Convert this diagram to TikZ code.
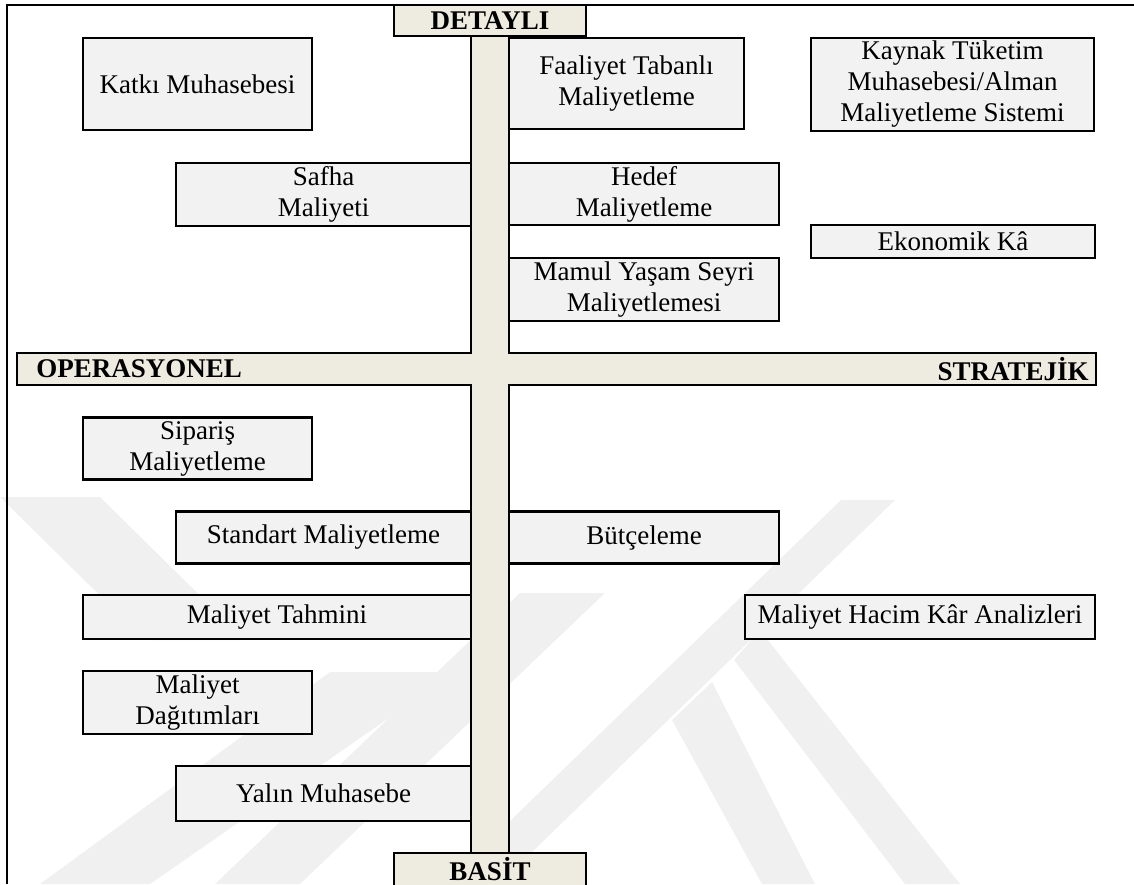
\documentclass[tikz,border=0pt]{standalone}
\usepackage{fontspec}
\setmainfont{Liberation Serif}
\definecolor{barfill}{RGB}{238,236,225}
\definecolor{boxfill}{RGB}{242,242,242}
\definecolor{wm}{RGB}{240,240,240}
\tikzset{
  lw/.style={line width=1.2pt},
  box/.style={lw, draw=black, fill=boxfill, inner sep=0pt, align=center,
    font=\fontsize{13.5}{15.5}\selectfont},
  endbox/.style={box, fill=barfill, font=\fontsize{13.5}{15.5}\selectfont\bfseries},
  barlabel/.style={inner sep=0pt, font=\fontsize{13.5}{15.5}\selectfont\bfseries},
  wmark/.style={fill=wm, draw=none}
}
\begin{document}
\begin{tikzpicture}[x=0.5pt,y=-0.5pt]
\useasboundingbox (0,0) rectangle (1134,884);
\begin{scope}
\clip (0,0) rectangle (1134,884);
% watermark (faint)
\fill[wmark] (0,497) -- (100,497) -- (245,640) -- (145,640) -- cycle;
\fill[wmark] (330,672) -- (455,672) -- (150,884) -- (40,884) -- cycle;
\fill[wmark] (520,593) -- (605,593) -- (300,884) -- (215,884) -- cycle;
\fill[wmark] (841,500) -- (895,500) -- (499,884) -- (445,884) -- cycle;
\fill[wmark] (672,720) -- (712,682) -- (815,884) -- (762,884) -- cycle;
\fill[wmark] (734,660) -- (760,630) -- (960,884) -- (905,884) -- cycle;
% frame
\draw[line width=1pt] (7,884) -- (7,5) -- (1134,5);
% cross bars
\fill[barfill] (471,36) rectangle (509,853);
\fill[barfill] (17,353) rectangle (1096,385);
\draw[lw] (471,36) -- (471,353) -- (17,353) -- (17,385) -- (471,385) -- (471,853);
\draw[lw] (509,36) -- (509,353) -- (1096,353) -- (1096,385) -- (509,385) -- (509,853);
\node[barlabel, anchor=west] (oper) at (36,369) {OPERASYONEL};
\node[barlabel, anchor=east] (strat) at (1089,369) {STRATEJİK};
% end boxes
\node[endbox, minimum width=96pt, minimum height=15.5pt] (det) at (490,20.5) {DETAYLI};
\node[endbox, minimum width=96pt, minimum height=16.5pt] (bas) at (490,869.5) {BASİT};
% upper boxes
\node[box, minimum width=114.5pt, minimum height=46pt] (katki) at (197.5,84) {Katkı Muhasebesi};
\node[box, minimum width=117.5pt, minimum height=45.5pt] (faal) at (626.5,83.5) {Faaliyet Tabanlı\\Maliyetleme};
\node[box, minimum width=141.5pt, minimum height=46.5pt] (kaynak) at (952.5,84.5) {Kaynak Tüketim\\Muhasebesi/Alman\\ Maliyetleme Sistemi};
\node[box, minimum width=147.5pt, minimum height=31.5pt] (safha) at (323.5,194.5) {Safha\\Maliyeti};
\node[box, minimum width=135pt, minimum height=31pt] (hedef) at (644,194) {Hedef\\Maliyetleme};
\node[box, minimum width=142pt, minimum height=16.5pt] (ekon) at (953,241.5) {Ekonomik Kâ};
\node[box, minimum width=135pt, minimum height=31.5pt] (mamul) at (644,289.5) {Mamul Yaşam Seyri\\Maliyetlemesi};
% lower boxes
\node[box, minimum width=114.5pt, minimum height=31pt] (sip) at (197.5,448.5) {Sipariş\\Maliyetleme};
\node[box, minimum width=147.5pt, minimum height=26pt] (stand) at (323.5,537.5) {Standart Maliyetleme};
\node[box, minimum width=135pt, minimum height=26pt] (butce) at (644,537.5) {Bütçeleme};
\node[box, minimum width=194pt, minimum height=22pt] (tahmin) at (277,617) {Maliyet Tahmini};
\node[box, minimum width=175pt, minimum height=22pt] (mhka) at (920,617) {Maliyet Hacim Kâr Analizleri};
\node[box, minimum width=114.5pt, minimum height=31.5pt] (dagit) at (197.5,702.5) {Maliyet\\Dağıtımları};
\node[box, minimum width=147.5pt, minimum height=27.5pt] (yalin) at (323.5,793.5) {Yalın Muhasebe};
\end{scope}
\end{tikzpicture}
\end{document}
